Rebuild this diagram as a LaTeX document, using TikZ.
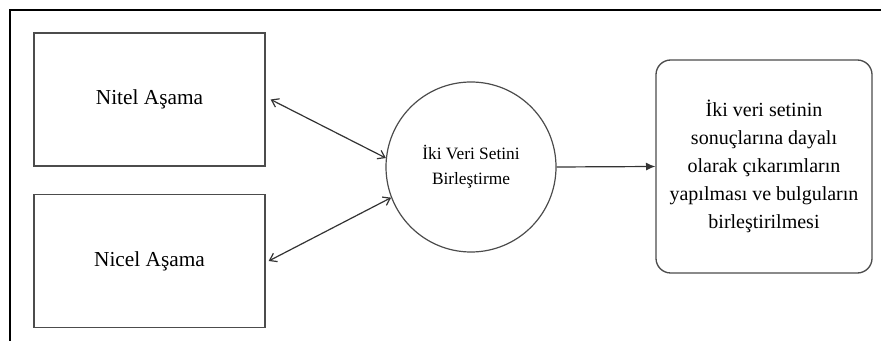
\documentclass[tikz,border=0pt]{standalone}
\usepackage{fontspec}
\setmainfont{Liberation Serif}
\usetikzlibrary{arrows.meta}

\tikzset{every picture/.style={line width=0.75pt}}
\tikzset{
  phasebox/.style={draw=black!70, line width=1pt, rectangle, minimum width=173.25pt, minimum height=99.75pt, inner sep=0pt, font=\fontsize{16}{20}\selectfont},
  joinnode/.style={draw=black!70, line width=0.9pt, circle, minimum size=127.5pt, inner sep=0pt, align=center, font=\fontsize{13}{18.75}\selectfont},
  resultbox/.style={draw=black!70, line width=1pt, rectangle, rounded corners=11pt, minimum width=162pt, minimum height=159.75pt, inner sep=0pt, align=center, font=\fontsize{15}{21}\selectfont},
  dblarrow/.style={black!80, line width=0.9pt, {Straight Barb[length=5pt,width=7pt]}-{Straight Barb[length=5pt,width=7pt]}},
  onearrow/.style={black!80, line width=0.9pt, -{Latex[length=7pt,width=6pt]}}
}

\begin{document}
\begin{tikzpicture}[x=0.75pt,y=0.75pt,yscale=-1,xscale=1]
        \useasboundingbox (0,0) rectangle (881,341);

        %Frame
        \draw [line width=2pt] (10,341) -- (10,10) -- (881,10) ;

        % Phase boxes
        \draw (149.5,99.5) node [phasebox] (nitel) {Nitel Aşama};
        \draw (149.5,261) node [phasebox] (nicel) {Nicel Aşama};
        % Joining circle
        \draw (471,167) node [joinnode] (join) {İki Veri Setini\\Birleştirme};
        % Result box
        \draw (764,166.5) node [resultbox] (result) {İki veri setinin\\sonuçlarına dayalı\\olarak çıkarımların\\yapılması ve bulguların\\birleştirilmesi};

        % Connectors
        \draw [dblarrow] ([xshift=3.75pt]nitel.east) -- (join.174.5) ;
        \draw [dblarrow] ([xshift=2.25pt]nicel.east) -- (join.201.5) ;
        \draw [onearrow] (join.east) -- (result.west) ;

\end{tikzpicture}
\end{document}
